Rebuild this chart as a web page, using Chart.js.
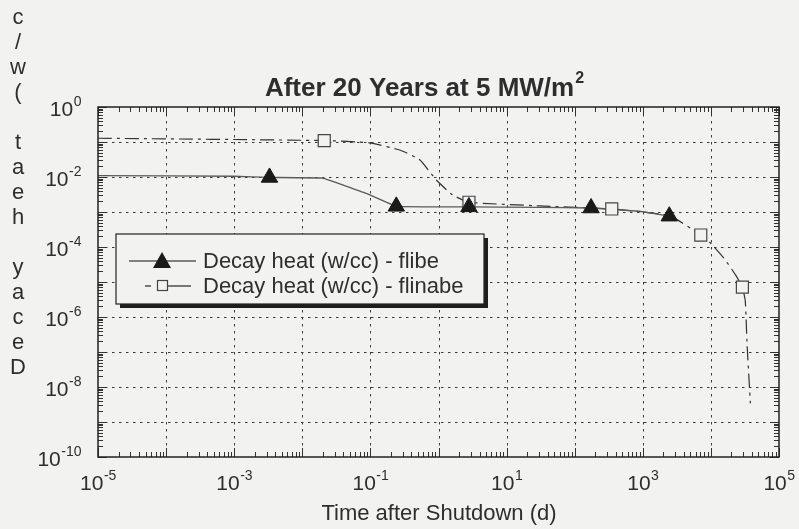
<!DOCTYPE html>
<html>
<head>
<meta charset="utf-8">
<script src="https://cdn.jsdelivr.net/npm/chart.js@4.4.1/dist/chart.umd.min.js"></script>
<style>
  html, body { margin: 0; padding: 0; background: #f2f2f1; }
  #grafico { display: block; }
</style>
</head>
<body>
<canvas id="grafico" width="799" height="529"></canvas>
<script>
// dados (tempo em dias, calor em w/cc)
const flibeTempo = [1e-5, 1e-3, 3.3e-3, 0.02, 0.087, 0.24, 2.8, 30, 174, 890, 2450];
const flibeCalor = [0.011, 0.0105, 0.0097, 0.0093, 3.4e-3, 1.45e-3, 1.4e-3, 1.36e-3, 1.3e-3, 1.05e-3, 7.6e-4];
const flibeMarcaTempo = [3.3e-3, 0.24, 2.8, 174, 2450];
const flibeMarcaCalor = [0.0097, 1.45e-3, 1.4e-3, 1.3e-3, 7.6e-4];

const flinabeTempo = [1e-5, 0.021, 0.098, 0.27, 0.53, 0.93, 1.6, 2.8, 30, 350, 2450, 7100, 1e4, 1.55e4, 2.3e4, 2.9e4, 3.2e4, 3.4e4, 3.8e4];
const flinabeCalor = [0.128, 0.11, 0.094, 0.059, 0.031, 8.2e-3, 3.1e-3, 1.9e-3, 1.5e-3, 1.22e-3, 7.8e-4, 2.2e-4, 1.26e-4, 4.8e-5, 1.6e-5, 7.1e-6, 2.8e-6, 1.6e-7, 3.4e-9];
const flinabeMarcaTempo = [0.021, 2.8, 350, 7100, 2.9e4];
const flinabeMarcaCalor = [0.11, 1.9e-3, 1.22e-3, 2.2e-4, 7.1e-6];

const decadasX = [-5, -4, -3, -2, -1, 0, 1, 2, 3, 4, 5];
const decadasY = [0, -1, -2, -3, -4, -5, -6, -7, -8, -9, -10];
const rotulosX = [-5, -3, -1, 1, 3, 5];
const rotulosY = [0, -2, -4, -6, -8, -10];

const titulo = 'After 20 Years at 5 MW/m';
const tituloSup = '2';
const tituloEixoX = 'Time after Shutdown (d)';
const tituloEixoY = 'Decay heat (w/c';
const legendas = ['Decay heat (w/cc) - flibe', 'Decay heat (w/cc) - flinabe'];

const corFundo = '#f2f2f1';
const corTexto = '#2e2e2e';

function pares(xs, ys) {
  return xs.map((x, i) => ({ x: x, y: ys[i] }));
}

function textoPotencia(ctx, exp, cx, cy, alinhamento) {
  const base = '10', sup = String(exp);
  ctx.font = '21px "Liberation Sans", Arial, sans-serif';
  const wb = ctx.measureText(base).width;
  ctx.font = '14px "Liberation Sans", Arial, sans-serif';
  const ws = ctx.measureText(sup).width;
  let x0 = alinhamento === 'right' ? cx - wb - ws : cx - (wb + ws) / 2;
  ctx.textAlign = 'left';
  ctx.textBaseline = 'alphabetic';
  ctx.font = '21px "Liberation Sans", Arial, sans-serif';
  ctx.fillText(base, x0, cy + 8);
  ctx.font = '14px "Liberation Sans", Arial, sans-serif';
  ctx.fillText(sup, x0 + wb + 0.5, cy - 2);
}

const pluginFundo = {
  id: 'fundo',
  beforeDraw(chart) {
    const ctx = chart.ctx;
    ctx.save();
    ctx.fillStyle = corFundo;
    ctx.fillRect(0, 0, chart.width, chart.height);
    ctx.restore();
  },
  beforeDatasetsDraw(chart) {
    const { ctx, chartArea: a, scales } = chart;
    ctx.save();
    ctx.strokeStyle = '#3a3a3a';
    ctx.lineWidth = 1;
    ctx.setLineDash([2.5, 4.5]);
    decadasX.slice(1, -1).forEach(e => {
      const px = Math.round(scales.x.getPixelForValue(Math.pow(10, e))) + 0.5;
      ctx.beginPath(); ctx.moveTo(px, a.top); ctx.lineTo(px, a.bottom); ctx.stroke();
    });
    decadasY.slice(1, -1).forEach(e => {
      const py = Math.round(scales.y.getPixelForValue(Math.pow(10, e))) + 0.5;
      ctx.beginPath(); ctx.moveTo(a.left, py); ctx.lineTo(a.right, py); ctx.stroke();
    });
    ctx.setLineDash([]);

    // marcas internas (maiores e menores)
    ctx.strokeStyle = '#333';
    ctx.lineWidth = 1;
    decadasX.forEach(e => {
      for (let m = 1; m <= 9; m++) {
        if (e === 5 && m > 1) break;
        const px = Math.round(scales.x.getPixelForValue(m * Math.pow(10, e))) + 0.5;
        const len = m === 1 ? 9 : 5;
        ctx.beginPath();
        ctx.moveTo(px, a.bottom); ctx.lineTo(px, a.bottom - len);
        ctx.moveTo(px, a.top); ctx.lineTo(px, a.top + len);
        ctx.stroke();
      }
    });
    decadasY.forEach(e => {
      for (let m = 1; m <= 9; m++) {
        if (e === 0 && m > 1) break;
        const py = Math.round(scales.y.getPixelForValue(m * Math.pow(10, e))) + 0.5;
        const len = m === 1 ? 9 : 5;
        ctx.beginPath();
        ctx.moveTo(a.left, py); ctx.lineTo(a.left + len, py);
        ctx.moveTo(a.right, py); ctx.lineTo(a.right - len, py);
        ctx.stroke();
      }
    });
    ctx.restore();
  },
  afterDraw(chart) {
    const { ctx, chartArea: a, scales } = chart;
    ctx.save();
    // caixa
    ctx.strokeStyle = '#222';
    ctx.lineWidth = 1.5;
    ctx.strokeRect(a.left, a.top, a.right - a.left, a.bottom - a.top);

    ctx.fillStyle = corTexto;
    rotulosX.forEach(e => {
      textoPotencia(ctx, e, scales.x.getPixelForValue(Math.pow(10, e)), 482, 'center');
    });
    rotulosY.forEach(e => {
      textoPotencia(ctx, e, 81, scales.y.getPixelForValue(Math.pow(10, e)) + 1, 'right');
    });

    // título
    ctx.font = 'bold 26px "Liberation Sans", Arial, sans-serif';
    const wt = ctx.measureText(titulo).width;
    ctx.font = 'bold 16px "Liberation Sans", Arial, sans-serif';
    const wts = ctx.measureText(tituloSup).width;
    const xt = 424 - (wt + wts) / 2;
    ctx.textAlign = 'left';
    ctx.textBaseline = 'alphabetic';
    ctx.font = 'bold 26px "Liberation Sans", Arial, sans-serif';
    ctx.fillText(titulo, xt, 96);
    ctx.font = 'bold 16px "Liberation Sans", Arial, sans-serif';
    ctx.fillText(tituloSup, xt + wt + 1, 83);

    // eixo x
    ctx.font = '22px "Liberation Sans", Arial, sans-serif';
    ctx.textAlign = 'center';
    ctx.fillText(tituloEixoX, 439, 520);

    // eixo y: letras empilhadas, de baixo para cima
    ctx.textBaseline = 'middle';
    tituloEixoY.split('').forEach((c, i) => {
      ctx.fillText(c, 18, 368 - i * 25);
    });

    // legenda
    const lx = 116, ly = 234, lw = 368, lh = 70;
    ctx.fillStyle = '#1e1e1e';
    ctx.fillRect(lx + 4, ly + 4, lw, lh);
    ctx.fillStyle = corFundo;
    ctx.fillRect(lx, ly, lw, lh);
    ctx.strokeStyle = '#222';
    ctx.lineWidth = 1.2;
    ctx.strokeRect(lx, ly, lw, lh);

    // linha 1: flibe
    ctx.strokeStyle = '#5a5a5a';
    ctx.lineWidth = 1.3;
    ctx.beginPath(); ctx.moveTo(129, 261); ctx.lineTo(196, 261); ctx.stroke();
    ctx.fillStyle = '#1a1a1a';
    ctx.beginPath();
    ctx.moveTo(162, 252); ctx.lineTo(171, 268); ctx.lineTo(153, 268); ctx.closePath();
    ctx.fill();
    // linha 2: flinabe
    ctx.strokeStyle = '#333';
    ctx.beginPath(); ctx.moveTo(145, 286); ctx.lineTo(151, 286); ctx.stroke();
    ctx.beginPath(); ctx.moveTo(168, 286); ctx.lineTo(191, 286); ctx.stroke();
    ctx.strokeStyle = '#444';
    ctx.lineWidth = 1.2;
    ctx.strokeRect(157.5, 280.5, 10, 10);

    ctx.fillStyle = corTexto;
    ctx.font = '22px "Liberation Sans", Arial, sans-serif';
    ctx.textAlign = 'left';
    ctx.textBaseline = 'middle';
    ctx.fillText(legendas[0], 203, 262);
    ctx.fillText(legendas[1], 203, 287);
    ctx.restore();
  }
};

const ctx = document.getElementById('grafico');
const grafico = new Chart(ctx, {
  type: 'scatter',
  data: {
    datasets: [
      {
        label: legendas[0] + ' marcas',
        data: pares(flibeMarcaTempo, flibeMarcaCalor),
        showLine: false,
        pointStyle: 'triangle',
        pointRadius: 9.5,
        backgroundColor: '#1a1a1a',
        borderColor: '#1a1a1a',
        borderWidth: 1,
        order: 0
      },
      {
        label: legendas[1] + ' marcas',
        data: pares(flinabeMarcaTempo, flinabeMarcaCalor),
        showLine: false,
        pointStyle: 'rect',
        pointRadius: 8.5,
        backgroundColor: corFundo,
        borderColor: '#444',
        borderWidth: 1.2,
        order: 0
      },
      {
        label: legendas[0],
        data: pares(flibeTempo, flibeCalor),
        showLine: true,
        pointRadius: 0,
        borderColor: '#5a5a5a',
        borderWidth: 1.3,
        tension: 0.05,
        order: 1
      },
      {
        label: legendas[1],
        data: pares(flinabeTempo, flinabeCalor),
        showLine: true,
        pointRadius: 0,
        borderColor: '#333',
        borderWidth: 1.2,
        borderDash: [14, 5, 3, 5],
        tension: 0.15,
        order: 1
      }
    ]
  },
  options: {
    responsive: false,
    animation: false,
    devicePixelRatio: 1,
    layout: { padding: { left: 98, top: 107, right: 20, bottom: 72 } },
    plugins: {
      legend: { display: false },
      tooltip: { enabled: false }
    },
    scales: {
      x: { type: 'logarithmic', min: 1e-5, max: 1e5, display: false },
      y: { type: 'logarithmic', min: 1e-10, max: 1, display: false }
    }
  },
  plugins: [pluginFundo]
});
</script>
</body>
</html>
